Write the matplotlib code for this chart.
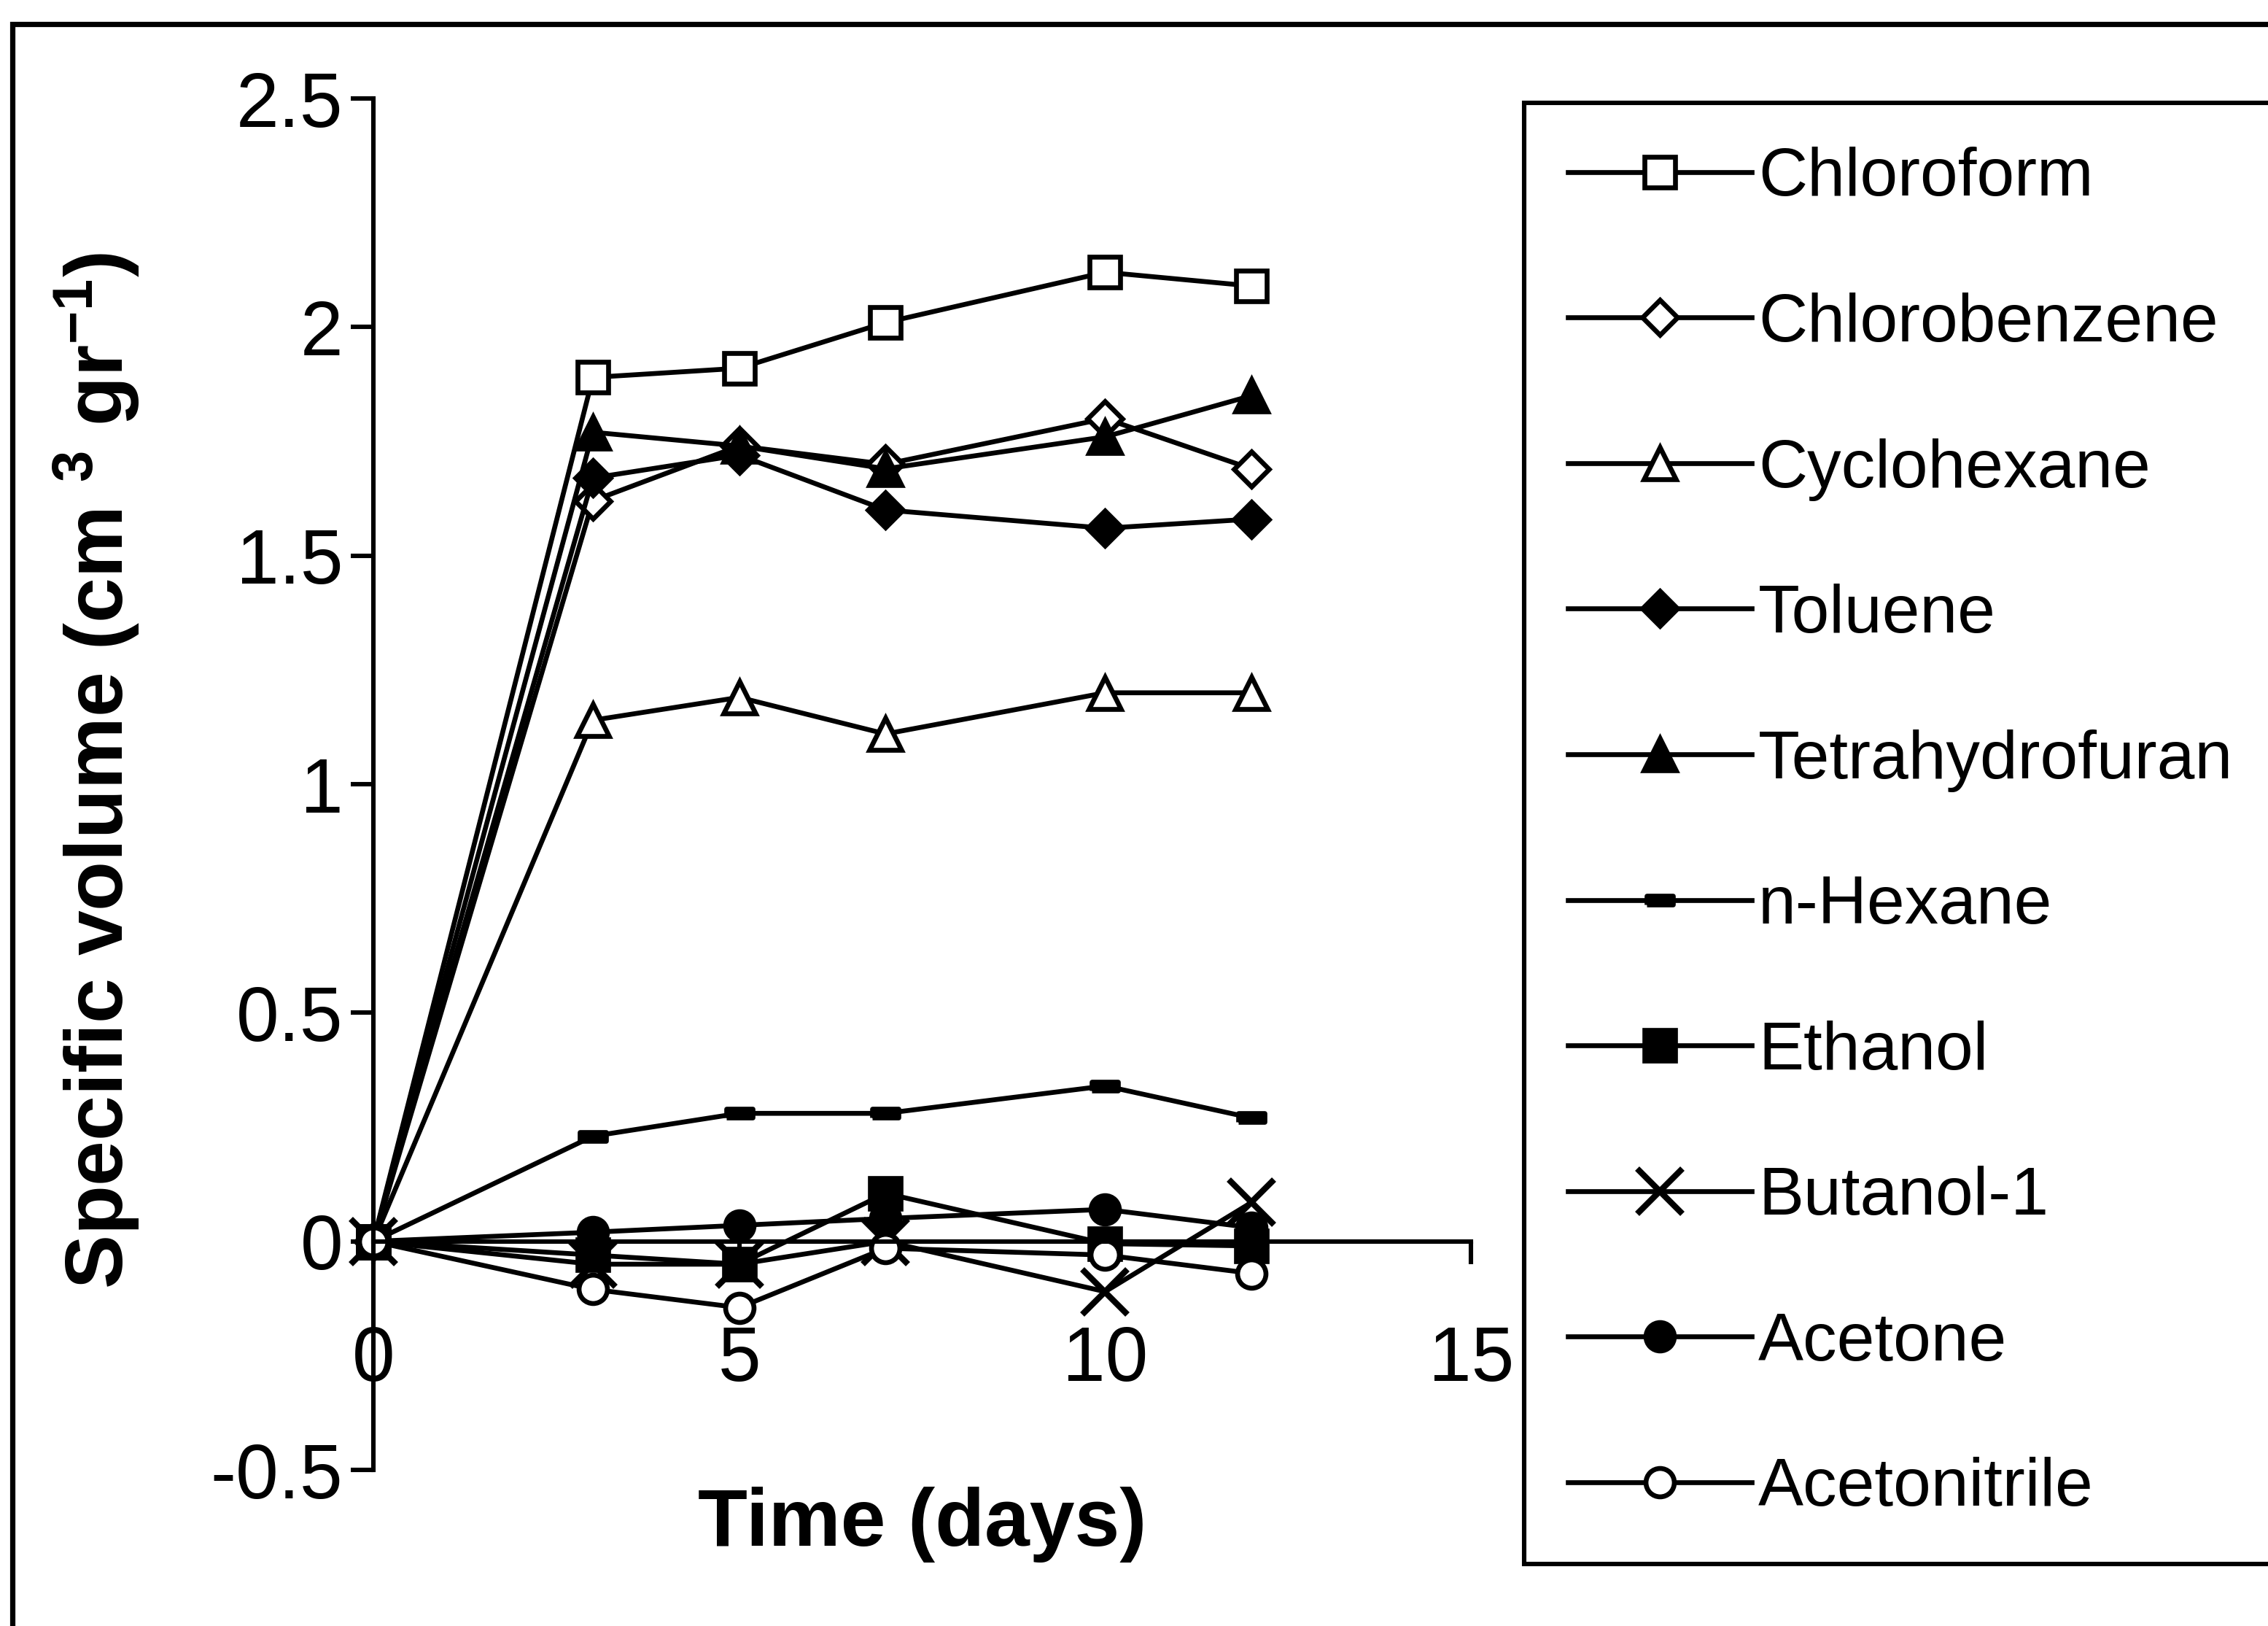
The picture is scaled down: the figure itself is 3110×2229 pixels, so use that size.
import matplotlib
matplotlib.use("Agg")
import matplotlib.pyplot as plt
from matplotlib.patches import Rectangle

plt.rcParams['font.family'] = ['Liberation Sans', 'DejaVu Sans']
plt.rcParams['mathtext.fontset'] = 'custom'
plt.rcParams['mathtext.rm'] = 'Liberation Sans:bold'
plt.rcParams['mathtext.bf'] = 'Liberation Sans:bold'
plt.rcParams['mathtext.default'] = 'bf'

# data
days = [0, 3, 5, 7, 10, 12]
chloroform = [0, 1.89, 1.91, 2.01, 2.12, 2.09]
chlorobenzene = [0, 1.62, 1.74, 1.70, 1.80, 1.69]
cyclohexane = [0, 1.14, 1.19, 1.11, 1.20, 1.20]
toluene = [0, 1.67, 1.72, 1.60, 1.56, 1.58]
thf = [0, 1.77, 1.74, 1.69, 1.76, 1.85]
n_hexane = [0, 0.23, 0.28, 0.28, 0.34, 0.27]
ethanol = [0, -0.03, -0.05, 0.105, -0.005, -0.01]
butanol = [0, -0.05, -0.05, 0.0, -0.11, 0.085]
acetone = [0, 0.02, 0.035, 0.05, 0.07, 0.03]
acetonitrile = [0, -0.105, -0.145, -0.015, -0.03, -0.07]

names = ['Chloroform', 'Chlorobenzene', 'Cyclohexane', 'Toluene',
         'Tetrahydrofuran', 'n-Hexane', 'Ethanol', 'Butanol-1',
         'Acetone', 'Acetonitrile']
series = [chloroform, chlorobenzene, cyclohexane, toluene, thf,
          n_hexane, ethanol, butanol, acetone, acetonitrile]

dash = [(-1, -0.35), (1, -0.35), (1, 0.35), (-1, 0.35), (-1, -0.35)]
styles = [
    dict(marker='s', mfc='white', ms=15),
    dict(marker='D', mfc='white', ms=12),
    dict(marker='^', mfc='white', ms=16),
    dict(marker='D', mfc='black', ms=12),
    dict(marker='^', mfc='black', ms=16),
    dict(marker=dash, mfc='black', ms=13),
    dict(marker='s', mfc='black', ms=15),
    dict(marker='x', mfc='black', ms=22, mew=3),
    dict(marker='o', mfc='black', ms=14),
    dict(marker='o', mfc='white', ms=14),
]

fig = plt.figure(figsize=(15.55, 11.145), dpi=200)
ax = fig.add_axes([0.1646, 0.0960, 0.4840, 0.8434])

for name, vals, st in zip(names, series, styles):
    kw = dict(color='black', lw=2.4, mec='black', mew=2.4)
    kw.update(st)
    ax.plot(days, vals, label=name, clip_on=False, **kw)

ax.set_xlim(0, 15)
ax.set_ylim(-0.5, 2.5)
ax.set_xticks([0, 5, 10, 15])
ax.set_yticks([-0.5, 0, 0.5, 1, 1.5, 2, 2.5])
ax.set_yticklabels(['-0.5', '0', '0.5', '1', '1.5', '2', '2.5'])

ax.spines['top'].set_visible(False)
ax.spines['right'].set_visible(False)
ax.spines['bottom'].set_position(('data', 0))
ax.spines['left'].set_linewidth(2.2)
ax.spines['bottom'].set_linewidth(2.2)
ax.tick_params(axis='y', direction='out', length=11, width=2.2, pad=4,
               labelsize=38)
ax.tick_params(axis='x', direction='out', length=11, width=2.2, pad=30,
               labelsize=38)

ax.set_xlabel('Time (days)', fontsize=40, fontweight='bold')
ax.xaxis.set_label_coords(0.5, -0.012)
ax.set_ylabel('Specific volume (cm $^{3}$ gr$^{-1}$)', fontsize=40,
              fontweight='bold')
ax.yaxis.set_label_coords(-0.211, 0.51)

leg = fig.legend(loc='upper left', bbox_to_anchor=(2090 / 3110, 1 - 141 / 2229),
                 fontsize=33.5, frameon=True, fancybox=False, borderaxespad=0,
                 handlelength=2.7, handletextpad=0.1, labelspacing=1.22,
                 borderpad=0.65, markerscale=1.0, framealpha=1)
leg.get_frame().set_edgecolor('black')
leg.get_frame().set_linewidth(2.2)

# outer frame (right and bottom edges fall outside the picture)
fig.patches.append(Rectangle((17 / 3110, -0.1), 1.2, 1.1 - 33 / 2229,
                             transform=fig.transFigure, fill=False,
                             edgecolor='black', lw=2.6))

fig.savefig('out.png', dpi=200)
